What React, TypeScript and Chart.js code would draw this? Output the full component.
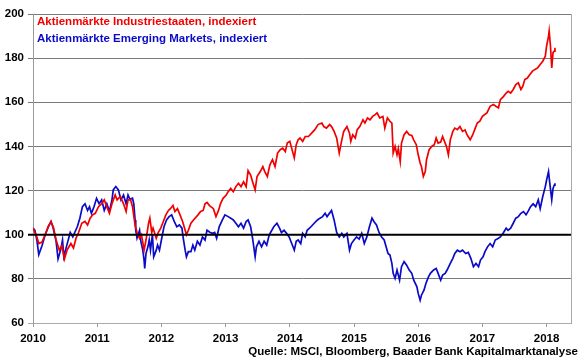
import React, { useEffect, useRef } from 'react';
import { Chart, registerables } from 'chart.js';

Chart.register(...registerables);

const START_YEAR = 2010;
const X_MAX = 2018.38;
const Y_MIN = 60;
const Y_MAX = 200;
const Y_STEP = 20;
const BASE_LINE = 100;

const redLabel = 'Aktienmärkte Industriestaaten, indexiert';
const blueLabel = 'Aktienmärkte Emerging Markets, indexiert';
const sourceText = 'Quelle: MSCI, Bloomberg, Baader Bank Kapitalmarktanalyse';

// years since start (fractional)
const redT = [
  0.00, 0.06, 0.09, 0.14, 0.19, 0.24, 0.28, 0.32, 0.36, 0.41,
  0.45, 0.49, 0.53, 0.59, 0.63, 0.67, 0.71, 0.76, 0.81, 0.85,
  0.89, 0.93, 0.97, 1.02, 1.07, 1.11, 1.15, 1.19, 1.23, 1.28,
  1.31, 1.36, 1.41, 1.45, 1.48, 1.52, 1.55, 1.59, 1.62, 1.66,
  1.69, 1.73, 1.76, 1.80, 1.82, 1.85, 1.87, 1.92, 1.95, 1.99,
  2.03, 2.07, 2.11, 2.14, 2.18, 2.21, 2.25, 2.29, 2.33, 2.37,
  2.39, 2.42, 2.46, 2.50, 2.57, 2.61, 2.65, 2.68, 2.71, 2.75,
  2.81, 2.85, 2.89, 2.92, 2.96, 3.01, 3.04, 3.08, 3.12, 3.16,
  3.20, 3.24, 3.28, 3.32, 3.35, 3.39, 3.42, 3.46, 3.49, 3.54,
  3.58, 3.61, 3.65, 3.69, 3.73, 3.77, 3.81, 3.85, 3.89, 3.93,
  3.96, 4.00, 4.07, 4.10, 4.13, 4.16, 4.20, 4.24, 4.29, 4.34,
  4.39, 4.44, 4.50, 4.53, 4.57, 4.62, 4.65, 4.69, 4.73, 4.77,
  4.81, 4.84, 4.89, 4.93, 4.95, 4.98, 5.02, 5.05, 5.09, 5.14,
  5.17, 5.21, 5.25, 5.29, 5.33, 5.36, 5.40, 5.45, 5.48, 5.52,
  5.56, 5.59, 5.61, 5.64, 5.67, 5.69, 5.72, 5.74, 5.78, 5.82,
  5.86, 5.90, 5.93, 5.97, 6.00, 6.03, 6.05, 6.08, 6.11, 6.13,
  6.17, 6.21, 6.25, 6.28, 6.31, 6.35, 6.38, 6.42, 6.44, 6.47,
  6.50, 6.54, 6.57, 6.61, 6.65, 6.69, 6.73, 6.76, 6.81, 6.85,
  6.88, 6.92, 6.96, 7.00, 7.07, 7.12, 7.17, 7.21, 7.25, 7.28,
  7.33, 7.37, 7.40, 7.44, 7.48, 7.52, 7.56, 7.60, 7.63, 7.66,
  7.70, 7.74, 7.78, 7.82, 7.86, 7.90, 7.94, 7.98, 8.00, 8.03,
  8.04, 8.06, 8.08, 8.10, 8.12, 8.13,
];
const redV = [
  103, 99, 96, 96.7, 100, 104, 105.8, 103, 97.6, 93,
  95, 89, 93, 96, 94, 98.4, 101, 105.2, 106, 104.4,
  107.5, 109, 109.7, 112.7, 114, 115.8, 112.7, 109.7, 114, 118,
  115.8, 117.3, 114, 110.5, 115.8, 115.8, 112.7, 104.4, 101, 98.4,
  100, 93, 97.6, 105.2, 107.5, 101, 103, 98.4, 101, 103,
  106, 109, 111, 111.8, 113.2, 110.5, 111.8, 109, 106, 102,
  100, 102, 105.2, 106.7, 109, 110.5, 111, 114, 114.6, 113.2,
  111.8, 108.2, 111, 114, 116.5, 118, 119.5, 121, 119.5, 121.8,
  123.3, 121.8, 124, 121.8, 129, 127, 124, 120.3, 126.4, 128.6,
  130.9, 128.6, 126.4, 131.7, 134, 130.9, 137, 138.5, 139.2, 137.7,
  141.5, 142.3, 134.8, 140.8, 143, 143.8, 142.3, 144.5, 144.5, 146,
  147.6, 149.9, 150.6, 149, 148.3, 149.9, 149, 146.8, 143.8, 137,
  143, 146.8, 149, 146, 142.3, 145.3, 143.8, 147.6, 149, 152.1,
  150.6, 152.9, 152.1, 153.6, 154.4, 155.2, 152.9, 153.6, 148.3, 152.9,
  151.4, 150.6, 137, 140, 136.2, 139, 133.2, 141.5, 145.3, 146.8,
  145.3, 145, 143, 140.8, 136.2, 132.5, 130.9, 126.4, 128.6, 134,
  138.5, 140, 140.8, 143.8, 141.5, 142, 144.5, 141.5, 140, 136.2,
  143, 146.8, 148.3, 147.6, 149, 146.8, 147.5, 145.3, 143, 145.3,
  147.6, 150.6, 151.4, 153.6, 155.2, 158.2, 159, 158.2, 157.5, 161.2,
  162.7, 164.2, 165, 164.2, 165.8, 168, 168.8, 165.8, 167.3, 170.3,
  171, 172.6, 174.1, 174.9, 175.6, 177.1, 178.6, 180.9, 185.5, 190,
  192.3, 185.5, 175.6, 182.5, 183.2, 184.7,
];

const blueT = [
  0.00, 0.03, 0.06, 0.09, 0.14, 0.19, 0.24, 0.28, 0.31, 0.33,
  0.36, 0.39, 0.43, 0.46, 0.48, 0.52, 0.58, 0.62, 0.65, 0.69,
  0.73, 0.77, 0.81, 0.85, 0.88, 0.91, 0.95, 0.99, 1.03, 1.07,
  1.11, 1.15, 1.19, 1.23, 1.25, 1.29, 1.33, 1.37, 1.41, 1.45,
  1.48, 1.51, 1.55, 1.57, 1.59, 1.60, 1.62, 1.66, 1.68, 1.71,
  1.73, 1.74, 1.76, 1.79, 1.81, 1.83, 1.86, 1.88, 1.92, 1.94,
  1.97, 2.00, 2.04, 2.08, 2.12, 2.16, 2.20, 2.24, 2.28, 2.32,
  2.34, 2.37, 2.39, 2.42, 2.46, 2.49, 2.52, 2.56, 2.60, 2.64,
  2.68, 2.71, 2.76, 2.80, 2.83, 2.86, 2.90, 2.95, 2.99, 3.04,
  3.08, 3.12, 3.16, 3.20, 3.24, 3.28, 3.32, 3.35, 3.39, 3.42,
  3.46, 3.48, 3.52, 3.56, 3.60, 3.64, 3.68, 3.72, 3.75, 3.80,
  3.84, 3.87, 3.91, 3.95, 3.99, 4.03, 4.07, 4.10, 4.13, 4.17,
  4.20, 4.24, 4.27, 4.33, 4.38, 4.43, 4.47, 4.51, 4.55, 4.58,
  4.65, 4.69, 4.73, 4.77, 4.81, 4.84, 4.89, 4.93, 4.96, 5.00,
  5.04, 5.08, 5.12, 5.16, 5.20, 5.24, 5.28, 5.31, 5.35, 5.39,
  5.43, 5.47, 5.50, 5.53, 5.56, 5.59, 5.61, 5.64, 5.67, 5.71,
  5.74, 5.78, 5.82, 5.86, 5.90, 5.93, 5.98, 6.00, 6.03, 6.05,
  6.09, 6.12, 6.16, 6.19, 6.24, 6.28, 6.31, 6.35, 6.38, 6.42,
  6.45, 6.50, 6.54, 6.57, 6.61, 6.65, 6.69, 6.74, 6.78, 6.82,
  6.86, 6.90, 6.94, 6.97, 7.01, 7.04, 7.08, 7.12, 7.16, 7.20,
  7.25, 7.28, 7.33, 7.37, 7.40, 7.44, 7.48, 7.52, 7.56, 7.60,
  7.64, 7.68, 7.72, 7.75, 7.79, 7.83, 7.87, 7.90, 7.94, 7.98,
  8.00, 8.03, 8.05, 8.08, 8.10, 8.12, 8.13,
];
const blueV = [
  103, 102, 97.6, 91, 95, 100, 103.6, 106, 103.6, 101,
  97, 89, 93, 97.6, 90, 94.5, 101, 99, 101, 103.6,
  107.5, 112.7, 114, 111, 112.7, 109.7, 112.7, 116.5, 114, 115.8,
  111, 114, 110.5, 115.8, 120.3, 121.8, 120.3, 115.8, 118, 114,
  118, 116, 116.5, 114, 106.7, 102, 98.4, 102, 97, 93,
  88.5, 84.7, 91.5, 94.5, 97.6, 93, 100, 90, 93, 95.3,
  93, 97.6, 103.6, 106.7, 108.2, 109, 106, 103.6, 104.4, 103,
  98.4, 93, 90, 92.3, 92.3, 95.3, 93, 97, 95.3, 99,
  97.6, 102, 101, 100.6, 101, 98.4, 103.6, 106.7, 109, 108.2,
  107.5, 106.7, 105.2, 103.6, 105.2, 103, 106, 106.7, 103.6, 98.4,
  90, 94.5, 97, 94.5, 97, 95.3, 100, 102, 103.6, 105.2,
  103, 101, 102, 100.6, 99, 96, 93, 97, 97.6, 96,
  100.6, 99, 102, 103.6, 105.2, 106.7, 107.5, 108.2, 109.7, 108.2,
  111, 106.7, 101, 99, 100.6, 99, 100.6, 93, 96, 97.6,
  99, 98, 100.6, 96, 99, 103.6, 107.5, 106, 104.4, 101,
  99, 97.6, 94.5, 91.5, 90.8, 87, 82.5, 80.2, 84, 79.4,
  85.5, 87.8, 86.2, 84, 82.5, 79.4, 76.4, 73.4, 70.3, 72.6,
  74.9, 77.9, 80.9, 82.5, 84, 84.7, 82.5, 79.4, 81.7, 82.5,
  84, 87, 89.3, 91.5, 93, 92.3, 93, 91.5, 92, 89.3,
  85.5, 87, 85.5, 88.5, 90, 92.3, 94.5, 96, 94.5, 97.6,
  98.4, 99, 101, 103, 102, 103, 105.2, 107.5, 108.2, 109.7,
  110.5, 109, 111, 112.7, 114, 112.7, 115.8, 111.8, 117.3, 121.8,
  124.8, 128.6, 123.3, 115.8, 121, 122.5, 123.3,
];

const RED = '#F20000';
const BLUE = '#0A0AC8';
const FONT = "'Liberation Sans', Arial, sans-serif";

function toPoints(t: number[], v: number[]) {
  const n = Math.min(t.length, v.length);
  const out: { x: number; y: number }[] = [];
  for (let i = 0; i < n; i++) out.push({ x: START_YEAR + t[i], y: v[i] });
  return out;
}

export default function App() {
  const ref = useRef<HTMLCanvasElement>(null);

  useEffect(() => {
    document.body.style.margin = '0';
    const canvas = ref.current;
    if (!canvas) return;

    const overlay = {
      id: 'overlay',
      afterDatasetsDraw(chart: any) {
        const { ctx, chartArea, scales } = chart;
        const y100 = scales.y.getPixelForValue(BASE_LINE);
        ctx.save();
        ctx.strokeStyle = '#000';
        ctx.lineWidth = 2;
        ctx.beginPath();
        ctx.moveTo(chartArea.left - 5, y100);
        ctx.lineTo(chartArea.right, y100);
        ctx.stroke();

        ctx.strokeStyle = '#a8a8a8';
        ctx.lineWidth = 1;
        ctx.beginPath();
        ctx.moveTo(chartArea.right + 0.5, chartArea.top);
        ctx.lineTo(chartArea.right + 0.5, chartArea.bottom);
        ctx.stroke();

        ctx.font = `bold 11.5px ${FONT}`;
        ctx.textBaseline = 'middle';
        ctx.textAlign = 'left';
        ctx.fillStyle = RED;
        ctx.fillText(redLabel, chartArea.left + 4, chartArea.top + 8);
        ctx.fillStyle = BLUE;
        ctx.fillText(blueLabel, chartArea.left + 4, chartArea.top + 25);

        ctx.fillStyle = '#000';
        ctx.textAlign = 'right';
        ctx.fillText(sourceText, chart.width - 2, chart.height - 7);
        ctx.restore();
      },
    };

    const chart = new Chart(canvas, {
      type: 'line',
      data: {
        datasets: [
          {
            label: redLabel,
            data: toPoints(redT, redV),
            borderColor: RED,
            borderWidth: 1.7,
            pointRadius: 0,
            tension: 0,
            fill: false,
          },
          {
            label: blueLabel,
            data: toPoints(blueT, blueV),
            borderColor: BLUE,
            borderWidth: 1.7,
            pointRadius: 0,
            tension: 0,
            fill: false,
          },
        ],
      },
      options: {
        responsive: false,
        animation: false,
        layout: { padding: { top: 14, right: 9, left: 0, bottom: 0 } },
        plugins: {
          legend: { display: false },
          tooltip: { enabled: false },
        },
        scales: {
          x: {
            type: 'linear',
            min: START_YEAR,
            max: X_MAX,
            afterFit: (s: any) => { s.height = 36; },
            ticks: {
              stepSize: 1,
              includeBounds: false,
              autoSkip: false,
              maxRotation: 0,
              padding: 5,
              color: '#000',
              font: { family: FONT, size: 11.5, weight: 'bold' },
              callback: (v: any) => String(v),
            },
            grid: { drawOnChartArea: false, drawTicks: true, tickLength: 4, color: '#9a9a9a' },
            border: { color: '#aaaaaa', width: 1 },
          },
          y: {
            min: Y_MIN,
            max: Y_MAX,
            afterFit: (s: any) => { s.width = 33; },
            ticks: {
              stepSize: Y_STEP,
              padding: 4,
              color: '#000',
              font: { family: FONT, size: 11.5, weight: 'bold' },
            },
            grid: {
              color: (c: any) => (c.tick && c.tick.value === Y_MIN ? '#aaaaaa' : '#7a7a7a'),
              lineWidth: 1,
              tickLength: 5,
            },
            border: { color: '#9a9a9a', width: 1 },
          },
        },
      },
      plugins: [overlay],
    });

    return () => chart.destroy();
  }, []);

  return (
    <div style={{ width: 580, height: 359 }}>
      <canvas ref={ref} width={580} height={359} style={{ display: 'block' }} />
    </div>
  );
}
